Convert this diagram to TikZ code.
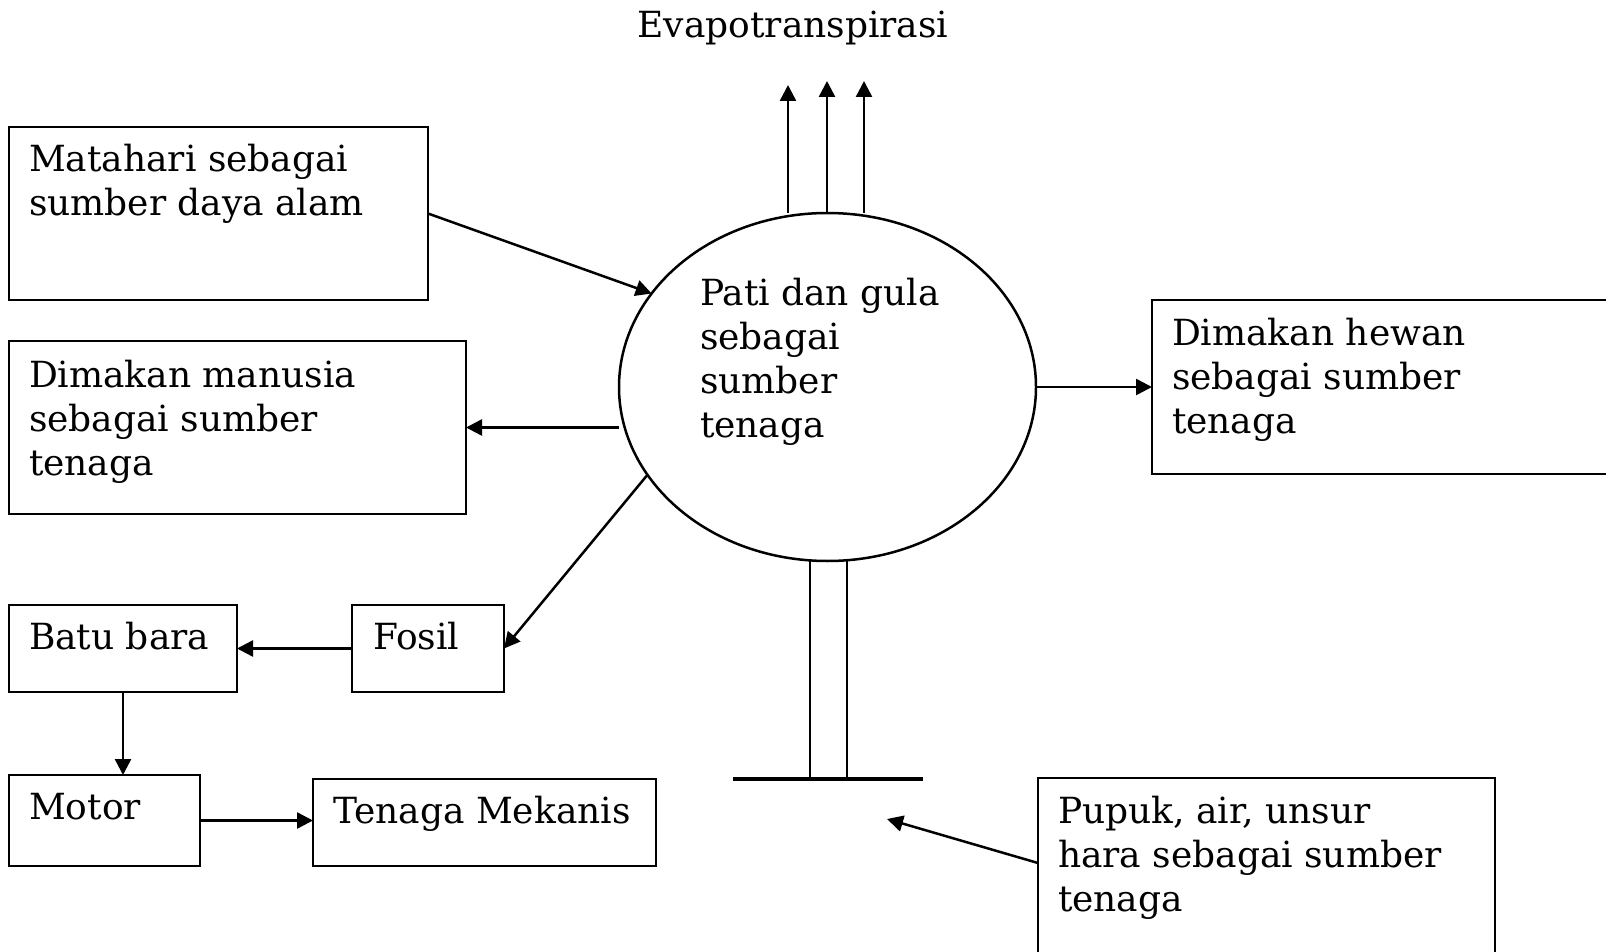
\documentclass[tikz,border=0pt]{standalone}
\usepackage{fontspec}
\setmainfont{DejaVu Serif}
\usetikzlibrary{shapes.geometric,arrows.meta,calc}
\newcommand\mlines[1]{\begin{tabular}[t]{@{}l@{}}#1\end{tabular}}
\begin{document}
\begin{tikzpicture}[x=0.5pt,y=-0.5pt,
  box/.style={draw, line width=1.25pt, inner sep=0pt, outer sep=0pt, anchor=north west},
  txt/.style={inner sep=0pt, outer sep=0pt, anchor=base west, font=\fontsize{18}{22}\selectfont},
  arr/.style={line width=1.25pt, -{Triangle[length=8pt,width=8pt]}},
  ln/.style={line width=1.25pt},
  ground/.style={line width=1.7pt}]
\useasboundingbox (0,0) rectangle (1606,952);
\clip (0,0) rectangle (1606,952);

% title
\node[txt, anchor=base] (evap) at (793,38) {Evapotranspirasi};

% central ellipse
\node[ellipse, draw, line width=1.25pt, inner sep=0pt, outer sep=0pt,
      minimum width=208.5pt, minimum height=174pt] (ell) at (827.5,387) {};
\node[txt] (elltxt) at (700,306) {\mlines{Pati dan gula\\sebagai\\sumber\\tenaga}};

% boxes
\node[box, minimum width=209.5pt, minimum height=86.5pt] (mat) at (9,127) {};
\node[txt] (mattxt) at (29,172) {\mlines{Matahari sebagai\\sumber daya alam}};

\node[box, minimum width=228.5pt, minimum height=86.5pt] (man) at (9,341) {};
\node[txt] (mantxt) at (29,387) {\mlines{Dimakan manusia\\sebagai sumber\\tenaga}};

\node[box, minimum width=300pt, minimum height=87pt] (hew) at (1152,300) {};
\node[txt] (hewtxt) at (1172,345) {\mlines{Dimakan hewan\\sebagai sumber\\tenaga}};

\node[box, minimum width=76pt, minimum height=43.5pt] (fos) at (352,605) {};
\node[txt] (fostxt) at (373,649) {Fosil};

\node[box, minimum width=114pt, minimum height=43.5pt] (batu) at (9,605) {};
\node[txt] (batutxt) at (29,649) {Batu bara};

\node[box, minimum width=95.5pt, minimum height=45.5pt] (motor) at (9,775) {};
\node[txt] (motortxt) at (29,819) {Motor};

\node[box, minimum width=171.5pt, minimum height=43.5pt] (ten) at (313,779) {};
\node[txt] (tentxt) at (333,823) {Tenaga Mekanis};

\node[box, minimum width=228.5pt, minimum height=125pt] (pup) at (1038,778) {};
\node[txt] (puptxt) at (1058,823) {\mlines{Pupuk, air, unsur\\hara sebagai sumber\\tenaga}};

% evapotranspiration arrows
\coordinate (e1) at (788,85);
\coordinate (e2) at (827,81);
\coordinate (e3) at (864,81);
\draw[arr] (ell.north -| e1) -- (e1);
\draw[arr] (ell.north -| e2) -- (e2);
\draw[arr] (ell.north -| e3) -- (e3);

% stem and ground
\coordinate (s1) at (810,779);
\coordinate (s2) at (847,779);
\coordinate (g1) at (733,779);
\coordinate (g2) at (923,779);
\draw[ln] (ell.south -| s1) -- (s1);
\draw[ln] (ell.south -| s2) -- (s2);
\draw[ground] (g1) -- (g2);

% connectors
\draw[arr] (mat.east) -- (ell.152);
\draw[arr] (ell.west |- man.east) -- (man.east);
\draw[arr] (ell.east) -- (hew.west);
\draw[arr] (ell.206) -- (fos.east);
\draw[arr] (fos.west) -- (fos.west -| batu.east);
\draw[arr] (batu.south) -- (batu.south |- motor.north);
\draw[arr] (motor.east) -- (motor.east -| ten.west);
\coordinate (pt) at (887,819);
\draw[arr] ($(pup.north west)+(0,85)$) -- (pt);
\end{tikzpicture}
\end{document}
